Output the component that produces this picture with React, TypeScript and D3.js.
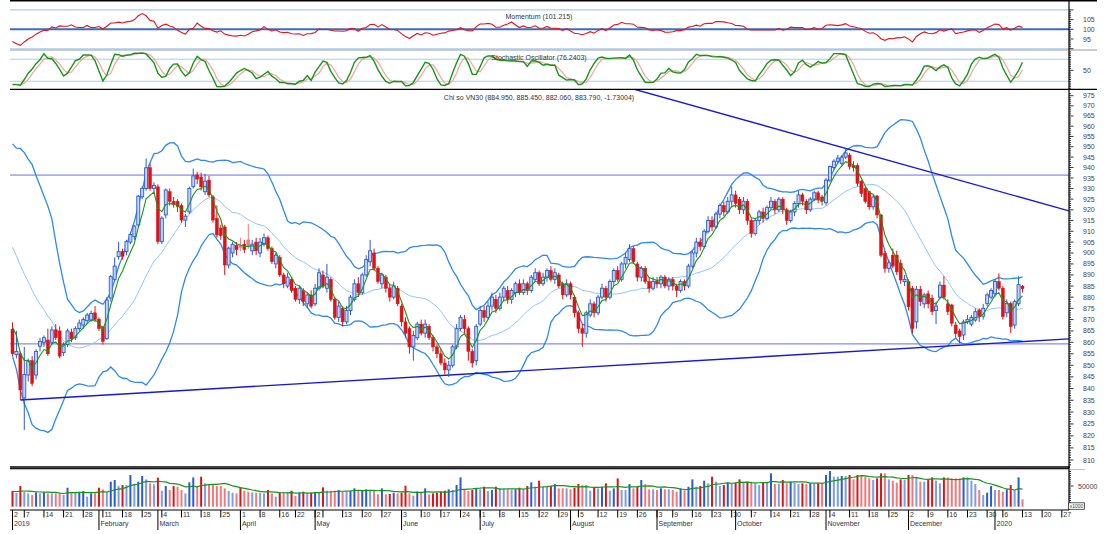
import React from "react";
import * as d3 from "d3";

// ---------- DATA ----------
const holidays = ["2019-01-01","2019-02-04","2019-02-05","2019-02-06","2019-02-07","2019-02-08","2019-04-15","2019-04-29","2019-04-30","2019-05-01","2019-09-02","2020-01-01"];

const open = [865.8,854.6,855,836,845.8,852,845.8,858.3,860,861,860,865.5,865,855.5,859,864.5,862,866,867.6,869.5,869.8,873,870.2,866.8,861.7,879.6,888,898.3,900.6,900.6,905,907.5,912.9,926.1,930,939.9,930,930.8,905.2,917.6,928.5,924,924,922,915.2,919,931,936.5,935.5,928.5,934,926.1,916,911.5,912,894.5,900,903.5,903.5,904,906,901,905,900,904,907,902,895,898,890,885,888,884,879,883,877,881,877,884,890,884,888,879,871,875,869,874,879,886,882,890,896,900,893,886,889,884,880,884,876,869,866,858,862,868,864,867,862,858,855,851,848,850,858,866,870,866,856,852,868,874,871,876,879,875,880,883,879,882,886,882,886,883,888,891,886,889,892,888,890,886,881,886,880,873,866,864,872,877,873,880,884,880,887,892,888,895,897,902,895,889,893,887,884,887,886,889,885,888,885,883,887,885,894,900,905,903,910,915,912,918,922,919,924,927,925,920,924,915,909,915,919,916,921,924,920,925,920,915,919,923,927,924,920,925,928,926,923.3,934,940,943,942,945,946,941,941,933.5,930,928.5,921.4,926.5,917.6,899.7,893,899,899,895.3,887,887,884,869,883.5,877,881.5,879.5,874,880,885.4,877,876.5,867.6,865,863.2,869,868,869.8,874.2,871.5,877.2,880,881.7,887,884,873,877.2,867.6,877,884.95];
const high = [868.8,865,856,858,853,854,857,862,863,866,867,868,867,860,866,866,867,870,871,873,874,876,871,867,880,890,898,905,902,906,909.5,913,927,931,944.4,942,933,932,917,930,930,926,925,923,918,931,939.5,938,937.5,937,936,927,922,913,913,903,905,905,907,906,913.4,906,907,907,909,908,903,900,899,891,891,889,885,885,884,882,883,886,893,892,895,889,880,878,876,876,881,888,889,891,899,906,902,894,891,890,886,887,885,877,871,867,865,869,870,870,868,863,859,857,853,852,859,868,872,872,867,857,868,876,876,878,882,881,882,885,885,884,887,888,888,887,890,893,892,891,893,894,893,891,887,888,887,881,874,868,874,879,878,881,886,885,888,893,894,896,900,904,903,896,894,894,889,889,889,890,890,889,889,886,888,888,895,901,907,907,911,917,917,919,923,924,926,931,929,926,926,925,916,916,920,921,922,926,925,926,926,921,920,924,929,928,925,926,929,929,927,935,941,944,946,946,949.2,947,943,942,934,931,929,927,927,918,901,897,902,901,897,890,888,885,885,885,882,883,881,878,887,889.4,879,877,869,866,870,872,872,875,875,877,882,884,888,890.7,885,879,878,879,889.4,885.45];
const low = [854,853,835.1,822.5,843,841,844,856,858,854,859,861,853,854,858,860,861,865,866,868,869,869,865,859,861,878,887,897,897,899,904,906,912,925,929,929,928,904,904,916,922,921,919,914,912,918,930,932,929,927,926,914,907,906,890,893,898,899,901,900,902,899,899,898,903,901,895,893,889,884,884,882,878,877,876,875,875,876,883,884,882,878,870,869,867,868,872,878,880,881,889,894,892,886,884,882,878,879,876,867,862,855,852,861,863,862,861,856,853,850,846,845,849,857,865,864,852,849,850,867,869,870,874,873,874,878,877,877,880,881,881,881,882,887,885,885,887,887,886,884,879,880,879,871,864,858,862,871,871,872,879,878,879,885,887,887,893,896,895,887,887,886,882,883,884,884,884,883,883,880,882,883,884,893,898,901,902,909,910,911,916,917,918,922,921,918,918,913,907,908,913,914,915,920,918,919,918,913,914,917,921,922,918,919,924,923,922,922,933,939,942,941,944,939,938,931,926,923,920,920,916,898,891,891,893,890,886,885,874,864,866,876,875,875,872,868,879,879,872,867,862,859.6,861,868,867,869,869,870,876,879,880,883,870,871,864,866,876,882.06];
const close = [855,856,839.4,846,851.9,842.2,856,860.4,862,855,865.4,862,854,859,865,861.5,866,868.5,870,872,872.7,870,866,860.4,878.7,889.2,894,900.6,898.5,905.2,908.5,912.4,926.4,930.1,939.9,930,931.5,905.2,916.1,929.3,923.8,922.5,921.5,915.2,917,930,936,934.5,930.8,933.5,927,915.2,908.3,908,894.5,902.2,904,901.5,902.5,901.5,903,904,901,905,907,902,896,899,890,886,889,883,879,884,878,881,876,884,891,885,889,879,871,876,869,874,880,886,882,890,897,901,893,887,890,884,880,885,877,869,864,858,863,868,864,868,862,858,855,851,848,850,858,866,871,866,856,851,867,874,871,876,880,875,880,884,879,883,886,882,886,883,889,891,886,889,892,888,891,885,881,886,881,873,866,864,873,877,873,880,884,880,887,892,888,895,898,902,896,889,893,887,884,887,886,889,885,888,885,883,887,885,894,900,905,903,910,915,912,918,922,919,924,927,923,920,924,915,909,915,919,916,921,924,920,925,920,915,919,923,927,924,920,925,928,925,924,934,940.5,943,944.5,945,947,940.5,940,932.5,927.7,924,921.4,926,917.6,899,893,895.5,894,891.4,887.7,888,875.7,866,883.5,878,881,877,873.5,876,885.4,880,873.5,868.4,863.8,862.5,869,870,871,873.5,871.5,875,881,883,887,884,871.3,877.2,866.9,878,885.6,883.79];
const volume = [37800,33800,49900,36200,32200,28200,34600,32200,34600,32200,32200,32200,32200,28200,45900,34600,34600,36200,37800,24200,32200,32200,45900,41900,34600,60400,64400,49900,52300,52300,76500,54700,60400,74100,66000,56400,53900,70000,38600,49900,40300,49900,48300,40300,32200,58800,70800,49900,72500,56400,54700,54700,49900,49900,44300,37800,33800,32200,45900,38600,36200,34600,33800,33800,32200,40300,32200,24200,34600,34600,33800,38600,25800,34600,36200,32200,33800,34600,33800,46700,38600,38600,38600,40300,36200,36200,37800,44300,38600,40300,41900,40300,40300,29800,44300,29800,30600,33800,32200,33800,50700,32200,26600,36200,36200,44300,29800,32200,33800,36200,38600,41900,40300,52300,70800,40300,37800,40300,44300,41900,48300,37800,40300,48300,44300,44300,41900,40300,41900,45900,41900,49900,58800,48300,62800,48300,48300,49900,54700,44300,44300,44300,41900,45900,54700,52300,52300,38600,46700,44300,48300,56400,38600,44300,68400,40300,40300,54700,44300,48300,64400,54700,41900,41900,40300,44300,41900,41900,40300,36200,44300,38600,48300,66000,48300,49900,62800,56400,72500,60400,49900,52300,58000,56400,58000,66000,58000,60400,60400,56400,52300,58000,58000,80500,54700,54700,64400,56400,60400,58000,54700,56400,54700,56400,54700,56400,56400,76500,86100,72500,72500,74100,74100,76500,66000,76500,74100,72500,68400,64400,68400,80500,80500,66000,62800,58000,66000,64400,76500,76500,72500,60400,60400,64400,70800,62800,56400,70800,70800,68400,68400,68400,70800,70800,62800,54700,40300,28200,33800,49900,40300,40300,36200,41900,52300,40300,70800,17700];

// history before the first visible session (used only by the indicators)
const preClose = [930,934,928,925,922,919,923,916,913,910,912,925,915,905,897,877,878,873,866,860];
const preHigh = [935,938,933,930,927,924,927,921,918,915,917,928,920,910,903,884,882,878,871,866];
const preLow = [926,929,924,920,918,915,918,911,908,906,907,912,911,899,890,872,873,868,861,855];
const preVolume = [38000,36000,40000,35000,33000,37000,42000,39000,36000,34000];

const priceTicks = d3.range(810, 976, 5);
const momTicks = [95, 100, 105];
const momLevels = [110, 90];
const stochLevels = [80, 20];
const priceLevels = [936.4, 859.3];
const lowerTrend = [{ i: 2, p: 835.1 }, { i: 257, p: 860.3 }];
const upperTrend = [{ i: 212, p: 949.2 }, { i: 257, p: 925.6 }];
const monthNames = ["January","February","March","April","May","June","July","August","September","October","November","December"];
const titles = {
  mom: "Momentum (101.215)",
  sto: "Stochastic Oscillator (76.2403)",
  main: "Chi so VN30 (884.950, 885.450, 882.060, 883.790, -1.73004)",
};

// ---------- LAYOUT ----------
const W = 1107, H = 534;
const X0 = 10, X1 = 1069;
const FONT = "'Liberation Sans', Arial, sans-serif";

function tradingDays(): Date[] {
  const out: Date[] = [];
  const d = new Date(Date.UTC(2019, 0, 2));
  const end = Date.UTC(2020, 0, 31);
  while (d.getTime() <= end) {
    const wd = d.getUTCDay();
    const key = d.toISOString().slice(0, 10);
    if (wd !== 0 && wd !== 6 && !holidays.includes(key)) out.push(new Date(d.getTime()));
    d.setUTCDate(d.getUTCDate() + 1);
  }
  return out;
}

export default function App() {
  const n = close.length;
  const idx = d3.range(n);
  const P = preClose.length;
  const fC = [...preClose, ...close];
  const fH = [...preHigh, ...high];
  const fL = [...preLow, ...low];

  const xS = d3.scaleLinear().domain([0, 257]).range([12.5, 1022.5]);
  const yP = d3.scaleLog().domain([810, 975]).range([460, 95.7]);
  const yM = d3.scaleLinear().domain([90, 110]).range([48.7, 9.9]);
  const yS = d3.scaleLinear().domain([20, 80]).range([81.3, 59.3]);
  const yV = d3.scaleLinear().domain([0, 50000]).range([506.7, 486]);

  // Bollinger 20,2
  const bbMid: number[] = [], bbUp: number[] = [], bbLo: number[] = [];
  idx.forEach((i) => {
    const w = fC.slice(P + i - 19, P + i + 1);
    const m = d3.mean(w) as number;
    const sd = Math.sqrt(d3.mean(w.map((v) => (v - m) ** 2)) as number);
    bbMid.push(m); bbUp.push(m + 2 * sd); bbLo.push(m - 2 * sd);
  });
  // EMA 5
  let e = fC[0];
  const emaFull = fC.map((v, k) => (e = k === 0 ? v : e + (v - e) / 3));
  const ema = emaFull.slice(P);
  // Momentum 10
  const mom = idx.map((i) => (100 * fC[P + i]) / fC[P + i - 10]);
  // Stochastic 5,3,3
  const rawK = fC.map((c, k) => {
    if (k < 4) return NaN;
    const hh = d3.max(fH.slice(k - 4, k + 1)) as number;
    const ll = d3.min(fL.slice(k - 4, k + 1)) as number;
    return hh === ll ? 50 : (100 * (c - ll)) / (hh - ll);
  });
  const kS = rawK.map((_, k) => (k < 6 ? NaN : (rawK[k] + rawK[k - 1] + rawK[k - 2]) / 3));
  const dS = kS.map((_, k) => (k < 8 ? NaN : (kS[k] + kS[k - 1] + kS[k - 2]) / 3));
  const K = kS.slice(P), D = dS.slice(P);
  // Volume MA 10
  const PV = preVolume.length;
  const fV = [...preVolume, ...volume];
  const vma = idx.map((i) => d3.mean(fV.slice(PV + i - 9, PV + i + 1)) as number);

  const lineOf = (arr: number[], y: (v: number) => number) =>
    d3.line<number>().x((_, i) => xS(i)).y((v) => y(v)).defined((v) => isFinite(v))(arr) || "";

  const trendPath = (t: { i: number; p: number }[], extendLeft: boolean) => {
    const ax = xS(t[0].i), ay = yP(t[0].p), bx = xS(t[1].i), by = yP(t[1].p);
    const slope = (by - ay) / (bx - ax);
    const sx = extendLeft ? X0 : ax;
    return `M${sx},${ay + slope * (sx - ax)}L${X1},${ay + slope * (X1 - ax)}`;
  };

  const days = tradingDays();
  const weekKey = (d: Date) => {
    const m = new Date(d.getTime());
    m.setUTCDate(m.getUTCDate() - ((m.getUTCDay() + 6) % 7));
    return m.toISOString().slice(0, 10);
  };
  const weekTicks: { x: number; label: string | null }[] = [];
  const monthTicks: { x: number; label: string }[] = [];
  let lastLabelX = -100;
  days.forEach((d, i) => {
    const x = xS(i);
    if (x > X1) return;
    if (i === 0 || weekKey(d) !== weekKey(days[i - 1])) {
      const show = x - lastLabelX >= 11;
      weekTicks.push({ x, label: show ? String(d.getUTCDate()) : null });
      if (show) lastLabelX = x;
    }
    if (i === 0 || d.getUTCMonth() !== days[i - 1].getUTCMonth()) {
      const mth = d.getUTCMonth();
      monthTicks.push({ x, label: mth === 0 ? String(d.getUTCFullYear()) : monthNames[mth] });
    }
  });

  const blueDark = "#2a5bd0", blueLight = "#7d9fe2";
  const redDark = "#dc1418", redLight = "#f07a7a";
  const textStyle = { fontFamily: FONT, fontSize: 7, fill: "#333" } as const;

  return (
    <svg width={W} height={H} style={{ position: "absolute", left: 0, top: 0, background: "#fff" }}>
      <defs>
        <clipPath id="cM"><rect x={X0} y={1} width={X1 - X0} height={49} /></clipPath>
        <clipPath id="cS"><rect x={X0} y={50.5} width={X1 - X0} height={38.5} /></clipPath>
        <clipPath id="cP"><rect x={X0} y={89.5} width={X1 - X0} height={377} /></clipPath>
        <clipPath id="cV"><rect x={X0} y={469} width={X1 - X0} height={40} /></clipPath>
      </defs>
      <rect x={0} y={0} width={W} height={H} fill="#fff" />

      {/* Momentum panel */}
      {momLevels.map((v) => (
        <line key={v} x1={X0} x2={X1} y1={yM(v)} y2={yM(v)} stroke="#a9cdf2" strokeWidth={1.1} />
      ))}
      <line x1={X0} x2={X1} y1={yM(100)} y2={yM(100)} stroke="#3b6cc0" strokeWidth={2} />
      <g clipPath="url(#cM)">
        <path d={lineOf(mom, yM)} fill="none" stroke="#e3141b" strokeWidth={1.1} />
      </g>
      <text x={539} y={16} textAnchor="middle" dominantBaseline="central" {...textStyle}>{titles.mom}</text>

      {/* Stochastic panel */}
      {stochLevels.map((v) => (
        <line key={v} x1={X0} x2={X1} y1={yS(v)} y2={yS(v)} stroke="#a9cdf2" strokeWidth={1.1} />
      ))}
      <g clipPath="url(#cS)">
        <path d={lineOf(D, yS)} fill="none" stroke="#f2a0a0" strokeWidth={1.2} />
        <path d={lineOf(K, yS)} fill="none" stroke="#169616" strokeWidth={1.4} />
      </g>
      <text x={539} y={57} textAnchor="middle" dominantBaseline="central" {...textStyle}>{titles.sto}</text>

      {/* Main price panel */}
      <g clipPath="url(#cP)">
        {priceLevels.map((v) => (
          <line key={v} x1={X0} x2={X1} y1={yP(v)} y2={yP(v)} stroke="#6b6bf2" strokeWidth={1} />
        ))}
        <path d={lineOf(bbUp, yP)} fill="none" stroke="#2a8af0" strokeWidth={1.3} />
        <path d={lineOf(bbLo, yP)} fill="none" stroke="#2a8af0" strokeWidth={1.3} />
        <path d={lineOf(bbMid, yP)} fill="none" stroke="#8ec5fa" strokeWidth={1} />
        <path d={trendPath(lowerTrend, false)} stroke="#1717d6" strokeWidth={1.4} fill="none" />
        <path d={trendPath(upperTrend, true)} stroke="#1717d6" strokeWidth={1.4} fill="none" />
        {idx.map((i) => {
          const o = open[i], c = close[i], h = high[i], l = low[i];
          const pc = i > 0 ? close[i - 1] : preClose[P - 1];
          const up = c >= o;
          const col = up ? (c >= pc ? blueDark : blueLight) : (c <= pc ? redDark : redLight);
          const x = xS(i);
          const yt = yP(Math.max(o, c)), yb = yP(Math.min(o, c));
          return (
            <g key={i}>
              <line x1={x} x2={x} y1={yP(h)} y2={yP(l)} stroke={col} strokeWidth={1} />
              <rect x={x - 1.5} y={yt} width={3} height={Math.max(1, yb - yt)}
                fill={up ? "#c3d5f6" : col} stroke={col} strokeWidth={up ? 0.9 : 0.5} />
            </g>
          );
        })}
        <path d={lineOf(ema, yP)} fill="none" stroke="#169616" strokeWidth={1.1} />
      </g>
      <text x={539} y={97} textAnchor="middle" dominantBaseline="central" {...textStyle}>{titles.main}</text>

      {/* Volume panel */}
      <g clipPath="url(#cV)">
        {idx.map((i) => {
          const up = close[i] >= open[i];
          const pv = i > 0 ? volume[i - 1] : preVolume[PV - 1];
          const col = up ? (volume[i] > pv ? blueDark : blueLight) : (volume[i] > pv ? redDark : redLight);
          const x = xS(i);
          return <rect key={i} x={x - 1} y={yV(volume[i])} width={2} height={yV(0) - yV(volume[i])} fill={col} />;
        })}
        <path d={lineOf(vma, yV)} fill="none" stroke="#169616" strokeWidth={1.2} />
      </g>

      {/* Panel borders */}
      <line x1={X0} x2={1097} y1={0.75} y2={0.75} stroke="#000" strokeWidth={1.5} />
      <line x1={X0} x2={1097} y1={50} y2={50} stroke="#999" strokeWidth={1} />
      <line x1={X0} x2={1097} y1={89.3} y2={89.3} stroke="#000" strokeWidth={1.3} />
      <line x1={X0} x2={X1 + 1} y1={467} y2={467} stroke="#000" strokeWidth={1.3} />
      <line x1={X0} x2={X1} y1={468.6} y2={468.6} stroke="#000" strokeWidth={1} />
      <line x1={X0} x2={1085} y1={469.6} y2={469.6} stroke="#aaa" strokeWidth={0.8} />
      <line x1={X1} x2={X1} y1={0} y2={510} stroke="#000" strokeWidth={1.2} />

      {/* Right axes */}
      {d3.range(90, 111, 1).map((v) => (
        <line key={"mt" + v} x1={X1} x2={X1 + (v % 5 === 0 ? 4.5 : 2)} y1={yM(v)} y2={yM(v)} stroke="#000" strokeWidth={0.8} />
      ))}
      {momTicks.map((v) => (
        <text key={"ml" + v} x={1083} y={yM(v)} dominantBaseline="central" {...textStyle} fill="#444">{v}</text>
      ))}
      {d3.range(0, 101, 5).map((v) => (
        <line key={"st" + v} x1={X1} x2={X1 + (v === 50 ? 4.5 : 2)} y1={yS(v)} y2={yS(v)} stroke="#000" strokeWidth={0.8} />
      ))}
      <text x={1083} y={yS(50)} dominantBaseline="central" {...textStyle} fill="#444">50</text>
      {d3.range(808, 977, 1).map((v) => (
        <line key={"pt" + v} x1={X1} x2={X1 + (v % 5 === 0 ? 4.5 : 2)} y1={yP(v)} y2={yP(v)} stroke="#000" strokeWidth={0.8} />
      ))}
      {priceTicks.map((v) => (
        <text key={"pl" + v} x={1083} y={yP(v)} dominantBaseline="central" {...textStyle} fill="#444">{v}</text>
      ))}
      {d3.range(0, 90001, 5000).filter((v) => yV(v) > 470).map((v) => (
        <line key={"vt" + v} x1={X1} x2={X1 + (v === 50000 ? 4.5 : 2)} y1={yV(v)} y2={yV(v)} stroke="#000" strokeWidth={0.8} />
      ))}
      <text x={1078} y={yV(50000)} dominantBaseline="central" {...textStyle} fill="#444">50000</text>
      <rect x={1068.5} y={502.8} width={16} height={6.5} fill="#fff" stroke="#333" strokeWidth={0.8} />
      <text x={1076.5} y={506.2} textAnchor="middle" dominantBaseline="central" fontFamily={FONT} fontSize={5} fill="#333">x1000</text>

      {/* Date axis */}
      <line x1={X0} x2={X1} y1={510} y2={510} stroke="#000" strokeWidth={1.2} />
      {weekTicks.map((t, k) => (
        <g key={"w" + k}>
          <line x1={t.x} x2={t.x} y1={510} y2={517.5} stroke="#000" strokeWidth={1} />
          {t.label && t.x + 2 < X1 - 3 && (
            <text x={t.x + 1.5} y={514.5} dominantBaseline="central" {...textStyle}>{t.label}</text>
          )}
        </g>
      ))}
      {monthTicks.map((t, k) => (
        <g key={"m" + k}>
          <line x1={t.x} x2={t.x} y1={510} y2={530} stroke="#000" strokeWidth={1} />
          <text x={t.x + 1.5} y={523.5} dominantBaseline="central" {...textStyle}>{t.label}</text>
        </g>
      ))}
    </svg>
  );
}
